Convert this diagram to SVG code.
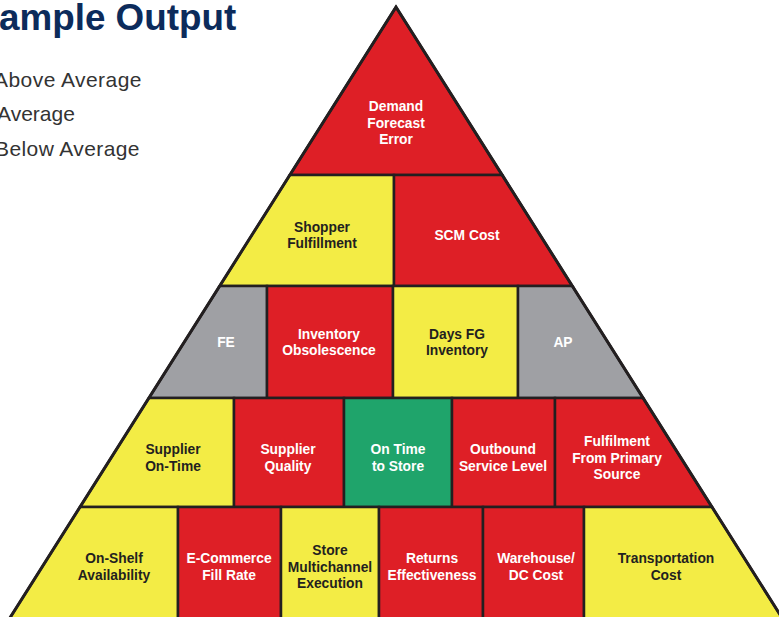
<svg xmlns="http://www.w3.org/2000/svg" width="779" height="617" viewBox="0 0 779 617">
<style>
.c{stroke:#231f20;stroke-width:2.5;stroke-linejoin:miter}
.r{fill:#de1f26}.y{fill:#f3ec45}.g{fill:#9fa0a4}.gr{fill:#1fa46b}
text.l{font-family:"Liberation Sans",Arial,sans-serif;font-weight:bold;font-size:13.8px;text-anchor:middle}
.w{fill:#ffffff}.d{fill:#231f20}
.leg{font-family:"Liberation Sans",Arial,sans-serif;font-size:21px;fill:#333333}
</style>
<rect width="779" height="617" fill="#ffffff"/>
<text x="-1" y="30" font-family="Liberation Sans, Arial, sans-serif" font-weight="bold" font-size="36.8" fill="#0c2b5b">ample Output</text>
<g id="legend">
<text class="leg" x="-6" y="87" letter-spacing="0.45">Above Average</text>
<text class="leg" x="-3" y="121">Average</text>
<text class="leg" x="-5" y="156" letter-spacing="0.4">Below Average</text>
</g>
<g id="demand-forecast-error"><polygon class="c r" points="396,7 289.8,175 502.2,175"/>
<text class="l w" x="396"><tspan x="396" y="111">Demand</tspan><tspan x="396" y="127.5">Forecast</tspan><tspan x="396" y="144">Error</tspan></text></g>
<g id="shopper-fulfillment"><polygon class="c y" points="289.8,175 394,175 394,286 219.7,286"/>
<text class="l d"><tspan x="322" y="232">Shopper</tspan><tspan x="322" y="248">Fulfillment</tspan></text></g>
<g id="scm-cost"><polygon class="c r" points="394,175 502.2,175 572.3,286 394,286"/>
<text class="l w" x="467" y="240">SCM Cost</text></g>
<g id="fe"><polygon class="c g" points="219.7,286 267,286 267,398 148.9,398"/>
<text class="l w" x="226" y="347">FE</text></g>
<g id="inventory-obsolescence"><polygon class="c r" points="267,286 393,286 393,398 267,398"/>
<text class="l w"><tspan x="329" y="339">Inventory</tspan><tspan x="329" y="355">Obsolescence</tspan></text></g>
<g id="days-fg-inventory"><polygon class="c y" points="393,286 518,286 518,398 393,398"/>
<text class="l d"><tspan x="457" y="339">Days FG</tspan><tspan x="457" y="355">Inventory</tspan></text></g>
<g id="ap"><polygon class="c g" points="518,286 572.3,286 643.1,398 518,398"/>
<text class="l w" x="563" y="347">AP</text></g>
<g id="supplier-on-time"><polygon class="c y" points="148.9,398 234,398 234,507 80,507"/>
<text class="l d"><tspan x="173" y="454">Supplier</tspan><tspan x="173" y="471">On-Time</tspan></text></g>
<g id="supplier-quality"><polygon class="c r" points="234,398 344,398 344,507 234,507"/>
<text class="l w"><tspan x="288" y="454">Supplier</tspan><tspan x="288" y="471">Quality</tspan></text></g>
<g id="on-time-to-store"><polygon class="c gr" points="344,398 452,398 452,507 344,507"/>
<text class="l w"><tspan x="398" y="454">On Time</tspan><tspan x="398" y="471">to Store</tspan></text></g>
<g id="outbound-service-level"><polygon class="c r" points="452,398 555,398 555,507 452,507"/>
<text class="l w"><tspan x="503" y="454">Outbound</tspan><tspan x="503" y="471">Service Level</tspan></text></g>
<g id="fulfilment-from-primary-source"><polygon class="c r" points="555,398 643.1,398 712,507 555,507"/>
<text class="l w"><tspan x="617" y="446">Fulfilment</tspan><tspan x="617" y="463">From Primary</tspan><tspan x="617" y="479">Source</tspan></text></g>
<g id="on-shelf-availability"><polygon class="c y" points="80,507 178,507 178,620 8.6,620"/>
<text class="l d"><tspan x="114" y="563">On-Shelf</tspan><tspan x="114" y="580">Availability</tspan></text></g>
<g id="e-commerce-fill-rate"><polygon class="c r" points="178,507 281,507 281,620 178,620"/>
<text class="l w"><tspan x="229" y="563">E-Commerce</tspan><tspan x="229" y="580">Fill Rate</tspan></text></g>
<g id="store-multichannel-execution"><polygon class="c y" points="281,507 379,507 379,620 281,620"/>
<text class="l d"><tspan x="330" y="555">Store</tspan><tspan x="330" y="571.5">Multichannel</tspan><tspan x="330" y="588">Execution</tspan></text></g>
<g id="returns-effectiveness"><polygon class="c r" points="379,507 483,507 483,620 379,620"/>
<text class="l w"><tspan x="432" y="563">Returns</tspan><tspan x="432" y="580">Effectiveness</tspan></text></g>
<g id="warehouse-dc-cost"><polygon class="c r" points="483,507 584,507 584,620 483,620"/>
<text class="l w"><tspan x="536" y="563">Warehouse/</tspan><tspan x="536" y="580">DC Cost</tspan></text></g>
<g id="transportation-cost"><polygon class="c y" points="584,507 712,507 783.4,620 584,620"/>
<text class="l d"><tspan x="666" y="563">Transportation</tspan><tspan x="666" y="580">Cost</tspan></text></g>
<polygon points="396,7 8.6,620 783.4,620" fill="none" stroke="#231f20" stroke-width="3" stroke-linejoin="miter"/>
</svg>
